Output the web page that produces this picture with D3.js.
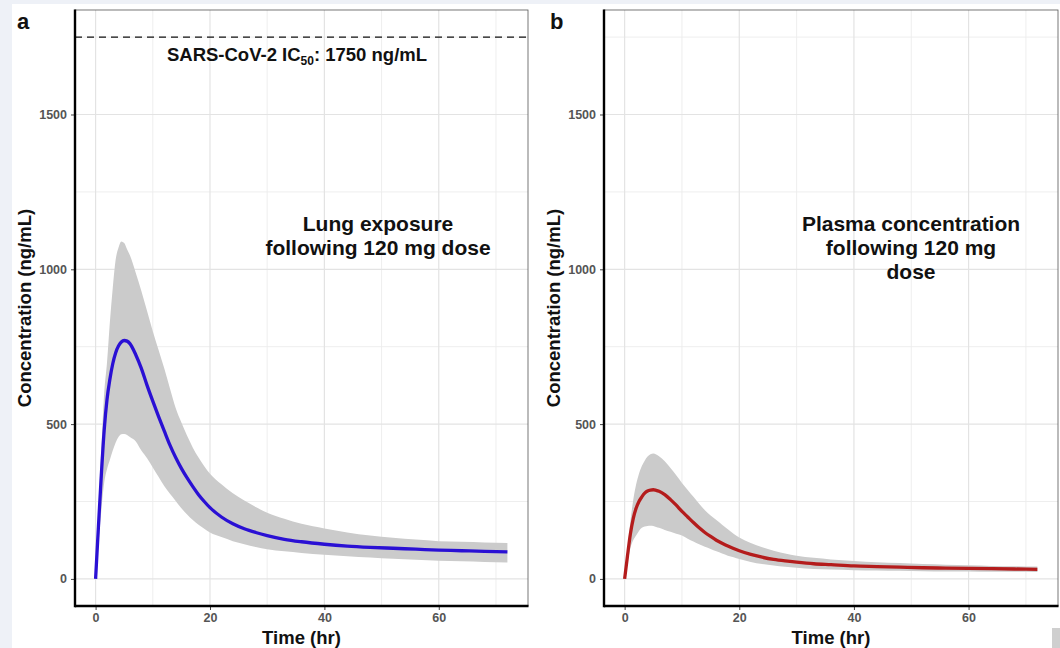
<!DOCTYPE html>
<html>
<head>
<meta charset="utf-8">
<script src="https://cdn.jsdelivr.net/npm/d3@7"></script>
<style>
  html, body { margin: 0; padding: 0; background: #eef1f7; }
  svg { display: block; font-family: "Liberation Sans", Arial, Helvetica, sans-serif; }
</style>
</head>
<body>
<svg id="chart" width="1060" height="648"></svg>
<script>
// ---- Data ----
const timeHr = [0, 0.5, 1, 1.5, 2, 2.5, 3, 3.5, 4, 4.5, 5, 5.5, 6, 7, 8, 9, 10, 11, 12, 13, 14, 15, 16, 17, 18, 19, 20, 22, 24, 26, 28, 30, 33, 36, 40, 44, 48, 52, 56, 60, 64, 68, 72];

const lungMedian = [0, 170, 335, 480, 580, 645, 695, 730, 752, 765, 770, 768, 760, 725, 680, 625, 574, 525, 478, 432, 392, 357, 326, 298, 272, 250, 230, 200, 178, 162, 150, 140, 128, 120, 112, 106, 102, 99, 96, 93, 91, 89, 87];
const lungUpper  = [0, 220, 420, 600, 700, 830, 940, 1030, 1070, 1090, 1085, 1065, 1045, 990, 930, 865, 800, 740, 680, 615, 552, 505, 462, 424, 392, 364, 340, 306, 277, 253, 232, 214, 194, 178, 163, 150, 140, 133, 127, 122, 120, 118, 116];
const lungLower  = [0, 110, 220, 310, 355, 385, 415, 440, 458, 467, 468, 465, 458, 445, 415, 390, 360, 330, 300, 275, 252, 228, 208, 190, 175, 162, 150, 135, 122, 112, 103, 96, 89, 84, 78, 73, 69, 65, 62, 59, 57, 55, 53];

const plasmaMedian = [0, 75, 145, 195, 228, 250, 265, 277, 284, 287, 288, 286, 283, 272, 256, 238, 218, 200, 182, 165, 150, 137, 125, 115, 106, 98, 91, 79, 70, 63, 58, 54, 49, 46, 42, 40, 38, 36, 35, 34, 33, 32, 31];
const plasmaUpper  = [0, 95, 185, 255, 305, 340, 365, 382, 395, 403, 405, 402, 396, 380, 358, 335, 310, 287, 265, 243, 222, 205, 190, 175, 160, 146, 134, 116, 102, 91, 82, 75, 68, 63, 58, 54, 51, 48, 46, 44, 42, 41, 40];
const plasmaLower  = [0, 50, 100, 125, 140, 155, 165, 169, 171, 172, 171, 168, 165, 158, 152, 146, 140, 130, 121, 112, 104, 97, 89, 82, 75, 70, 64, 55, 48, 43, 39, 36, 32, 30, 28, 27, 26, 25, 24, 24, 23, 23, 22];

const xTicks = [0, 20, 40, 60];
const xMinor = [10, 30, 50, 70];
const yTicks = [0, 500, 1000, 1500];
const yMinor = [250, 750, 1250, 1750];
const ic50 = 1750;

const panels = [
  { tag: "a", tagX: 17, left: 75, right: 528, median: lungMedian, upper: lungUpper, lower: lungLower,
    color: "#2a10d4", note: ["Lung exposure", "following 120 mg dose"], noteX: 378, noteY: 231, showIC50: true },
  { tag: "b", tagX: 550, left: 604, right: 1058, median: plasmaMedian, upper: plasmaUpper, lower: plasmaLower,
    color: "#b41c1c", note: ["Plasma concentration", "following 120 mg", "dose"], noteX: 911, noteY: 231, showIC50: false }
];

const svg = d3.select("#chart");
svg.append("rect").attr("x", 12).attr("y", 4).attr("width", 1048).attr("height", 644).attr("fill", "#ffffff");

const plotTop = 10, plotBottom = 606;

panels.forEach(p => {
  const x = d3.scaleLinear().domain([-3.6, 75.6]).range([p.left, p.right]);
  const y = d3.scaleLinear().domain([-87.5, 1837.5]).range([plotBottom, plotTop]);
  const g = svg.append("g");

  g.append("rect").attr("x", p.left).attr("y", plotTop).attr("width", p.right - p.left).attr("height", plotBottom - plotTop).attr("fill", "#fff");

  g.selectAll(".xminor").data(xMinor).enter().append("line")
    .attr("x1", d => x(d)).attr("x2", d => x(d)).attr("y1", plotTop).attr("y2", plotBottom)
    .attr("stroke", "#ececec").attr("stroke-width", 0.9);
  g.selectAll(".yminor").data(yMinor).enter().append("line")
    .attr("y1", d => y(d)).attr("y2", d => y(d)).attr("x1", p.left).attr("x2", p.right)
    .attr("stroke", "#ececec").attr("stroke-width", 0.9);
  g.selectAll(".xmajor").data(xTicks).enter().append("line")
    .attr("x1", d => x(d)).attr("x2", d => x(d)).attr("y1", plotTop).attr("y2", plotBottom)
    .attr("stroke", "#e3e3e3").attr("stroke-width", 1.2);
  g.selectAll(".ymajor").data(yTicks).enter().append("line")
    .attr("y1", d => y(d)).attr("y2", d => y(d)).attr("x1", p.left).attr("x2", p.right)
    .attr("stroke", "#e3e3e3").attr("stroke-width", 1.2);

  const rows = timeHr.map((t, i) => ({ t, m: p.median[i], u: p.upper[i], l: p.lower[i] }));

  const area = d3.area().x(d => x(d.t)).y0(d => y(d.l)).y1(d => y(d.u)).curve(d3.curveMonotoneX);
  g.append("path").datum(rows).attr("d", area).attr("fill", "#cbcbcb");

  const line = d3.line().x(d => x(d.t)).y(d => y(d.m)).curve(d3.curveMonotoneX);
  g.append("path").datum(rows).attr("d", line).attr("fill", "none")
    .attr("stroke", p.color).attr("stroke-width", 3.3).attr("stroke-linejoin", "round");

  if (p.showIC50) {
    g.append("line").attr("x1", p.left).attr("x2", p.right).attr("y1", y(ic50)).attr("y2", y(ic50))
      .attr("stroke", "#111").attr("stroke-width", 1.3).attr("stroke-dasharray", "7,5");
    const t = g.append("text").attr("x", 297).attr("y", 61).attr("text-anchor", "middle")
      .attr("font-size", 18.5).attr("font-weight", "bold").attr("fill", "#111");
    t.append("tspan").text("SARS-CoV-2 IC");
    t.append("tspan").attr("font-size", 12).attr("dy", 4).text("50");
    t.append("tspan").attr("dy", -4).text(": 1750 ng/mL");
  }

  p.note.forEach((s, i) => {
    g.append("text").attr("x", p.noteX).attr("y", p.noteY + i * 24).attr("text-anchor", "middle")
      .attr("font-size", 21).attr("font-weight", "bold").attr("fill", "#111").text(s);
  });

  g.append("rect").attr("x", p.left).attr("y", plotTop).attr("width", p.right - p.left).attr("height", plotBottom - plotTop)
    .attr("fill", "none").attr("stroke", "#555").attr("stroke-width", 0.8);

  const xAxis = d3.axisBottom(x).tickValues(xTicks).tickFormat(d3.format("d")).tickSize(4).tickPadding(3);
  const gx = g.append("g").attr("transform", `translate(0,${plotBottom})`).call(xAxis);
  const yAxis = d3.axisLeft(y).tickValues(yTicks).tickFormat(d3.format("d")).tickSize(4).tickPadding(4);
  const gy = g.append("g").attr("transform", `translate(${p.left},0)`).call(yAxis);
  [gx, gy].forEach(a => {
    a.select(".domain").remove();
    a.selectAll(".tick line").attr("stroke", "#444").attr("stroke-width", 1);
    a.selectAll(".tick text").attr("fill", "#555").attr("font-size", 12.5).attr("font-weight", "bold")
      .attr("font-family", "'Liberation Sans', Arial, sans-serif");
  });
  g.append("line").attr("x1", p.left).attr("x2", p.right + 0.5).attr("y1", plotBottom).attr("y2", plotBottom)
    .attr("stroke", "#000").attr("stroke-width", 2.4);
  g.append("line").attr("x1", p.left).attr("x2", p.left).attr("y1", plotTop - 0.5).attr("y2", plotBottom + 1.2)
    .attr("stroke", "#000").attr("stroke-width", 2.4);

  g.append("text").attr("x", (p.left + p.right) / 2).attr("y", 644).attr("text-anchor", "middle")
    .attr("font-size", 18.5).attr("font-weight", "bold").attr("fill", "#111").text("Time (hr)");
  g.append("text").attr("transform", `translate(${p.left - 44},${(plotTop + plotBottom) / 2}) rotate(-90)`)
    .attr("text-anchor", "middle").attr("font-size", 18.5).attr("font-weight", "bold").attr("fill", "#111")
    .text("Concentration (ng/mL)");

  g.append("text").attr("x", p.tagX).attr("y", 29).attr("font-size", 22).attr("font-weight", "bold")
    .attr("fill", "#111").text(p.tag);
});

svg.append("rect").attr("x", 1052).attr("y", 628).attr("width", 8).attr("height", 20).attr("fill", "#cfcfcf");
</script>
</body>
</html>
